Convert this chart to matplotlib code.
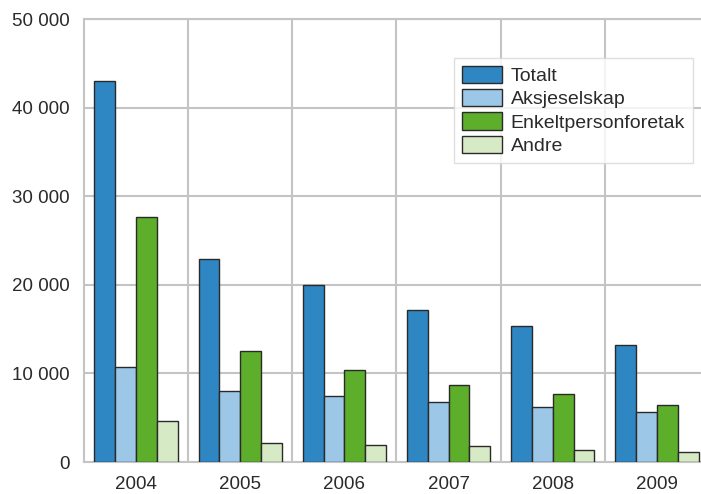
import numpy as np
import matplotlib.pyplot as plt
from matplotlib.ticker import FuncFormatter

years = ["2004", "2005", "2006", "2007", "2008", "2009"]
totalt = [43000, 22900, 20000, 17100, 15300, 13200]
aksjeselskap = [10700, 8050, 7500, 6800, 6250, 5600]
enkeltperson = [27650, 12550, 10400, 8650, 7650, 6450]
andre = [4650, 2200, 1900, 1750, 1350, 1150]

series = [
    ("Totalt", totalt, "#2e87c2"),
    ("Aksjeselskap", aksjeselskap, "#9dc7e7"),
    ("Enkeltpersonforetak", enkeltperson, "#5cae2b"),
    ("Andre", andre, "#d7eac6"),
]

plt.rcParams["font.family"] = ["Liberation Sans", "DejaVu Sans"]

fig = plt.figure(figsize=(7.01, 4.94), dpi=100)
# right edge of the plot area runs slightly past the figure
ax = fig.add_axes([84 / 701, 32 / 494, 625 / 701, 443 / 494])

x = np.arange(len(years))
w = 0.2
for i, (name, vals, col) in enumerate(series):
    ax.bar(x + (i - 1.5) * w, vals, width=w, color=col, edgecolor="#2a2a2a",
           linewidth=1.0, label=name, zorder=3)

ax.set_xlim(-0.5, len(years) - 0.5)
ax.set_ylim(0, 50000)
ax.set_yticks(np.arange(0, 50001, 10000))
ax.yaxis.set_major_formatter(FuncFormatter(lambda v, p: f"{int(v):,}".replace(",", " ")))
ax.set_xticks(x)
ax.set_xticklabels(years)

# vertical lines between the year groups
for b in np.arange(0.5, len(years) - 0.5, 1):
    ax.axvline(b, color="#c4c4c4", linewidth=1.5, zorder=1)
ax.grid(axis="y", color="#c4c4c4", linewidth=1.5, zorder=1)
for s in ax.spines.values():
    s.set_color("#c4c4c4")
    s.set_linewidth(1.5)
ax.tick_params(length=0, labelsize=13.5, colors="#2a2a2a")
ax.tick_params(axis="y", pad=10)
ax.tick_params(axis="x", pad=10)

leg = ax.legend(loc="upper right", bbox_to_anchor=(693 / 701, 1 - 58 / 494),
                bbox_transform=fig.transFigure, fontsize=14, frameon=True,
                fancybox=False, handlelength=2.05, handleheight=1.0,
                handletextpad=0.45, labelspacing=0.2, borderpad=0.4,
                borderaxespad=0)
leg.get_frame().set_edgecolor("#d8d8d8")
leg.get_frame().set_linewidth(1.0)
for t in leg.get_texts():
    t.set_color("#2a2a2a")

fig.savefig("out.png", dpi=100)
